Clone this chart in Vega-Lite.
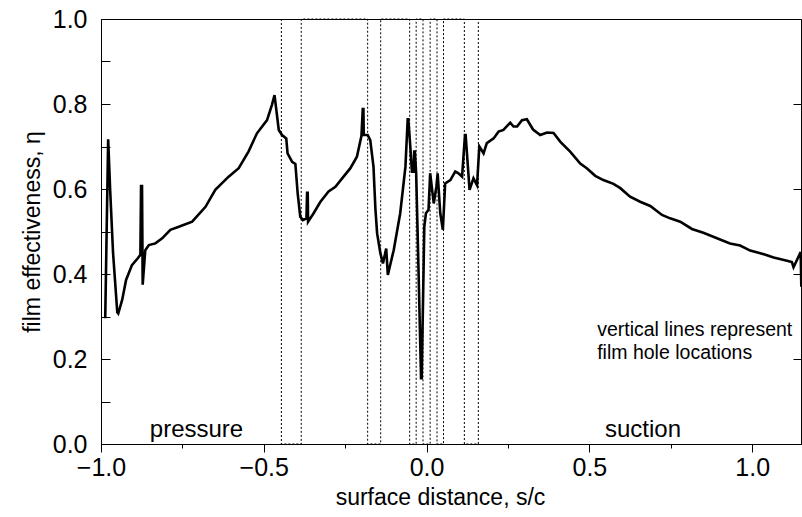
{
  "$schema": "https://vega.github.io/schema/vega-lite/v6.json",
  "width": 700,
  "height": 425,
  "autosize": "none",
  "padding": {"left": 101, "top": 19, "right": 1, "bottom": 73},
  "config": {
    "view": {"stroke": "black", "strokeWidth": 1},
    "font": "Liberation Sans",
    "axis": {"domainColor": "black", "tickColor": "black", "labelColor": "black", "titleColor": "black", "grid": false, "labelFont": "Liberation Sans", "titleFont": "Liberation Sans", "titleFontWeight": "normal"}
  },
  "datasets": {
    "curve": [
      {"i":1,"x":-0.987,"y":0.296},{"i":2,"x":-0.978,"y":0.717},{"i":3,"x":-0.972,"y":0.6},{"i":4,"x":-0.963,"y":0.45},{"i":5,"x":-0.95,"y":0.31},{"i":6,"x":-0.947,"y":0.307},{"i":7,"x":-0.935,"y":0.339},{"i":8,"x":-0.923,"y":0.386},{"i":9,"x":-0.905,"y":0.421},{"i":10,"x":-0.887,"y":0.437},{"i":11,"x":-0.879,"y":0.445},{"i":12,"x":-0.877,"y":0.607},{"i":13,"x":-0.874,"y":0.607},{"i":14,"x":-0.872,"y":0.375},{"i":15,"x":-0.864,"y":0.456},{"i":16,"x":-0.853,"y":0.468},{"i":17,"x":-0.833,"y":0.472},{"i":18,"x":-0.812,"y":0.484},{"i":19,"x":-0.787,"y":0.504},{"i":20,"x":-0.761,"y":0.511},{"i":21,"x":-0.72,"y":0.523},{"i":22,"x":-0.679,"y":0.558},{"i":23,"x":-0.649,"y":0.598},{"i":24,"x":-0.608,"y":0.629},{"i":25,"x":-0.577,"y":0.649},{"i":26,"x":-0.547,"y":0.688},{"i":27,"x":-0.521,"y":0.731},{"i":28,"x":-0.49,"y":0.762},{"i":29,"x":-0.475,"y":0.798},{"i":30,"x":-0.467,"y":0.821},{"i":31,"x":-0.454,"y":0.739},{"i":32,"x":-0.444,"y":0.727},{"i":33,"x":-0.431,"y":0.719},{"i":34,"x":-0.427,"y":0.684},{"i":35,"x":-0.413,"y":0.664},{"i":36,"x":-0.403,"y":0.659},{"i":37,"x":-0.396,"y":0.59},{"i":38,"x":-0.388,"y":0.535},{"i":39,"x":-0.38,"y":0.527},{"i":40,"x":-0.369,"y":0.531},{"i":41,"x":-0.367,"y":0.591},{"i":42,"x":-0.365,"y":0.591},{"i":43,"x":-0.364,"y":0.523},{"i":44,"x":-0.347,"y":0.543},{"i":45,"x":-0.326,"y":0.57},{"i":46,"x":-0.301,"y":0.594},{"i":47,"x":-0.28,"y":0.605},{"i":48,"x":-0.255,"y":0.629},{"i":49,"x":-0.234,"y":0.649},{"i":50,"x":-0.214,"y":0.676},{"i":51,"x":-0.2,"y":0.725},{"i":52,"x":-0.196,"y":0.788},{"i":53,"x":-0.194,"y":0.788},{"i":54,"x":-0.193,"y":0.727},{"i":55,"x":-0.181,"y":0.727},{"i":56,"x":-0.173,"y":0.715},{"i":57,"x":-0.163,"y":0.652},{"i":58,"x":-0.16,"y":0.6},{"i":59,"x":-0.157,"y":0.551},{"i":60,"x":-0.152,"y":0.496},{"i":61,"x":-0.142,"y":0.449},{"i":62,"x":-0.134,"y":0.425},{"i":63,"x":-0.124,"y":0.46},{"i":64,"x":-0.119,"y":0.398},{"i":65,"x":-0.101,"y":0.456},{"i":66,"x":-0.081,"y":0.543},{"i":67,"x":-0.065,"y":0.652},{"i":68,"x":-0.058,"y":0.764},{"i":69,"x":-0.056,"y":0.764},{"i":70,"x":-0.05,"y":0.7},{"i":71,"x":-0.045,"y":0.641},{"i":72,"x":-0.04,"y":0.641},{"i":73,"x":-0.038,"y":0.688},{"i":74,"x":-0.036,"y":0.688},{"i":75,"x":-0.032,"y":0.637},{"i":76,"x":-0.025,"y":0.417},{"i":77,"x":-0.017,"y":0.155},{"i":78,"x":-0.015,"y":0.155},{"i":79,"x":-0.007,"y":0.511},{"i":80,"x":-0.002,"y":0.543},{"i":81,"x":0.006,"y":0.551},{"i":82,"x":0.011,"y":0.637},{"i":83,"x":0.022,"y":0.566},{"i":84,"x":0.03,"y":0.605},{"i":85,"x":0.034,"y":0.637},{"i":86,"x":0.042,"y":0.543},{"i":87,"x":0.05,"y":0.504},{"i":88,"x":0.057,"y":0.613},{"i":89,"x":0.073,"y":0.621},{"i":90,"x":0.088,"y":0.641},{"i":91,"x":0.098,"y":0.637},{"i":92,"x":0.109,"y":0.629},{"i":93,"x":0.118,"y":0.727},{"i":94,"x":0.12,"y":0.727},{"i":95,"x":0.132,"y":0.598},{"i":96,"x":0.144,"y":0.625},{"i":97,"x":0.155,"y":0.609},{"i":98,"x":0.162,"y":0.7},{"i":99,"x":0.175,"y":0.684},{"i":100,"x":0.185,"y":0.708},{"i":101,"x":0.206,"y":0.719},{"i":102,"x":0.221,"y":0.735},{"i":103,"x":0.236,"y":0.739},{"i":104,"x":0.257,"y":0.756},{"i":105,"x":0.267,"y":0.747},{"i":106,"x":0.278,"y":0.747},{"i":107,"x":0.293,"y":0.762},{"i":108,"x":0.308,"y":0.764},{"i":109,"x":0.327,"y":0.74},{"i":110,"x":0.349,"y":0.727},{"i":111,"x":0.37,"y":0.733},{"i":112,"x":0.39,"y":0.732},{"i":113,"x":0.411,"y":0.711},{"i":114,"x":0.441,"y":0.688},{"i":115,"x":0.472,"y":0.66},{"i":116,"x":0.492,"y":0.649},{"i":117,"x":0.518,"y":0.631},{"i":118,"x":0.543,"y":0.621},{"i":119,"x":0.574,"y":0.612},{"i":120,"x":0.595,"y":0.602},{"i":121,"x":0.625,"y":0.582},{"i":122,"x":0.656,"y":0.57},{"i":123,"x":0.687,"y":0.56},{"i":124,"x":0.723,"y":0.539},{"i":125,"x":0.748,"y":0.531},{"i":126,"x":0.779,"y":0.523},{"i":127,"x":0.815,"y":0.506},{"i":128,"x":0.85,"y":0.497},{"i":129,"x":0.892,"y":0.484},{"i":130,"x":0.932,"y":0.472},{"i":131,"x":0.963,"y":0.467},{"i":132,"x":0.994,"y":0.455},{"i":133,"x":1.025,"y":0.449},{"i":134,"x":1.066,"y":0.439},{"i":135,"x":1.107,"y":0.431},{"i":136,"x":1.122,"y":0.428},{"i":137,"x":1.127,"y":0.416},{"i":138,"x":1.145,"y":0.445},{"i":139,"x":1.149,"y":0.452},{"i":140,"x":1.151,"y":0.37}
    ],
    "holes": [
      {"i":1,"x":-0.446,"y":1},{"i":2,"x":-0.446,"y":0},{"i":3,"x":-0.385,"y":0},{"i":4,"x":-0.385,"y":1},
      {"i":5,"x":-0.181,"y":1},{"i":6,"x":-0.181,"y":0},{"i":7,"x":-0.141,"y":0},{"i":8,"x":-0.141,"y":1},
      {"i":9,"x":-0.052,"y":1},{"i":10,"x":-0.052,"y":0},{"i":11,"x":-0.032,"y":0},{"i":12,"x":-0.032,"y":1},
      {"i":13,"x":-0.011,"y":1},{"i":14,"x":-0.011,"y":0},{"i":15,"x":0.011,"y":0},{"i":16,"x":0.011,"y":1},
      {"i":17,"x":0.032,"y":1},{"i":18,"x":0.032,"y":0},{"i":19,"x":0.052,"y":0},{"i":20,"x":0.052,"y":1},
      {"i":21,"x":0.116,"y":1},{"i":22,"x":0.116,"y":0},{"i":23,"x":0.159,"y":0},{"i":24,"x":0.159,"y":1}
    ],
    "notes": [
      {"x":-0.85,"y":0.016,"text":"pressure","size":24},
      {"x":0.548,"y":0.016,"text":"suction","size":24},
      {"x":0.524,"y":0.254,"text":"vertical lines represent","size":19.5},
      {"x":0.524,"y":0.199,"text":"film hole locations","size":19.5}
    ]
  },
  "layer": [
    {
      "data": {"name": "holes"},
      "mark": {"type": "line", "color": "black", "strokeWidth": 1, "strokeDash": [2, 2]},
      "encoding": {
        "x": {"field": "x", "type": "quantitative", "scale": {"domain": [-1, 1.15], "nice": false, "zero": false},
          "axis": {"title": "surface distance, s/c", "titleFontSize": 23, "labelFontSize": 25, "values": [-1,-0.75,-0.5,-0.25,0,0.25,0.5,0.75,1], "format": ".1f",
            "labelExpr": "abs(datum.value*2 - round(datum.value*2)) < 0.001 ? datum.label : ''",
            "tickSize": {"condition": {"test": "abs(datum.value*2 - round(datum.value*2)) < 0.001", "value": 8}, "value": 4},
            "labelPadding": 3, "titlePadding": 6, "titleX": 339, "labelFlush": false}},
        "y": {"field": "y", "type": "quantitative", "scale": {"domain": [0, 1], "nice": false}, "axis": null},
        "order": {"field": "i"}
      }
    },
    {
      "data": {"name": "curve"},
      "mark": {"type": "line", "color": "black", "strokeWidth": 2.6},
      "encoding": {
        "x": {"field": "x", "type": "quantitative"},
        "y": {"field": "y", "type": "quantitative", "scale": {"domain": [0, 1], "nice": false},
          "axis": {"title": "film effectiveness, η", "titleFontSize": 23, "labelFontSize": 25, "values": [0,0.1,0.2,0.3,0.4,0.5,0.6,0.7,0.8,0.9,1], "format": ".1f",
            "labelExpr": "round(datum.value*10) % 2 == 0 ? datum.label : ''",
            "tickSize": -9, "labelPadding": 23, "titlePadding": 8, "labelFlush": false}},
        "order": {"field": "i"}
      }
    },
    {
      "data": {"name": "notes"},
      "mark": {"type": "text", "align": "left", "baseline": "alphabetic", "font": "Liberation Sans", "color": "black"},
      "encoding": {
        "x": {"field": "x", "type": "quantitative"},
        "y": {"field": "y", "type": "quantitative", "scale": {"domain": [0, 1], "nice": false},
          "axis": {"orient": "right", "title": null, "labels": false, "values": [0,0.2,0.4,0.6,0.8,1], "tickSize": -8, "domain": false}},
        "size": {"field": "size", "type": "quantitative", "scale": null},
        "text": {"field": "text"}
      }
    }
  ],
  "resolve": {"axis": {"y": "independent"}}
}
